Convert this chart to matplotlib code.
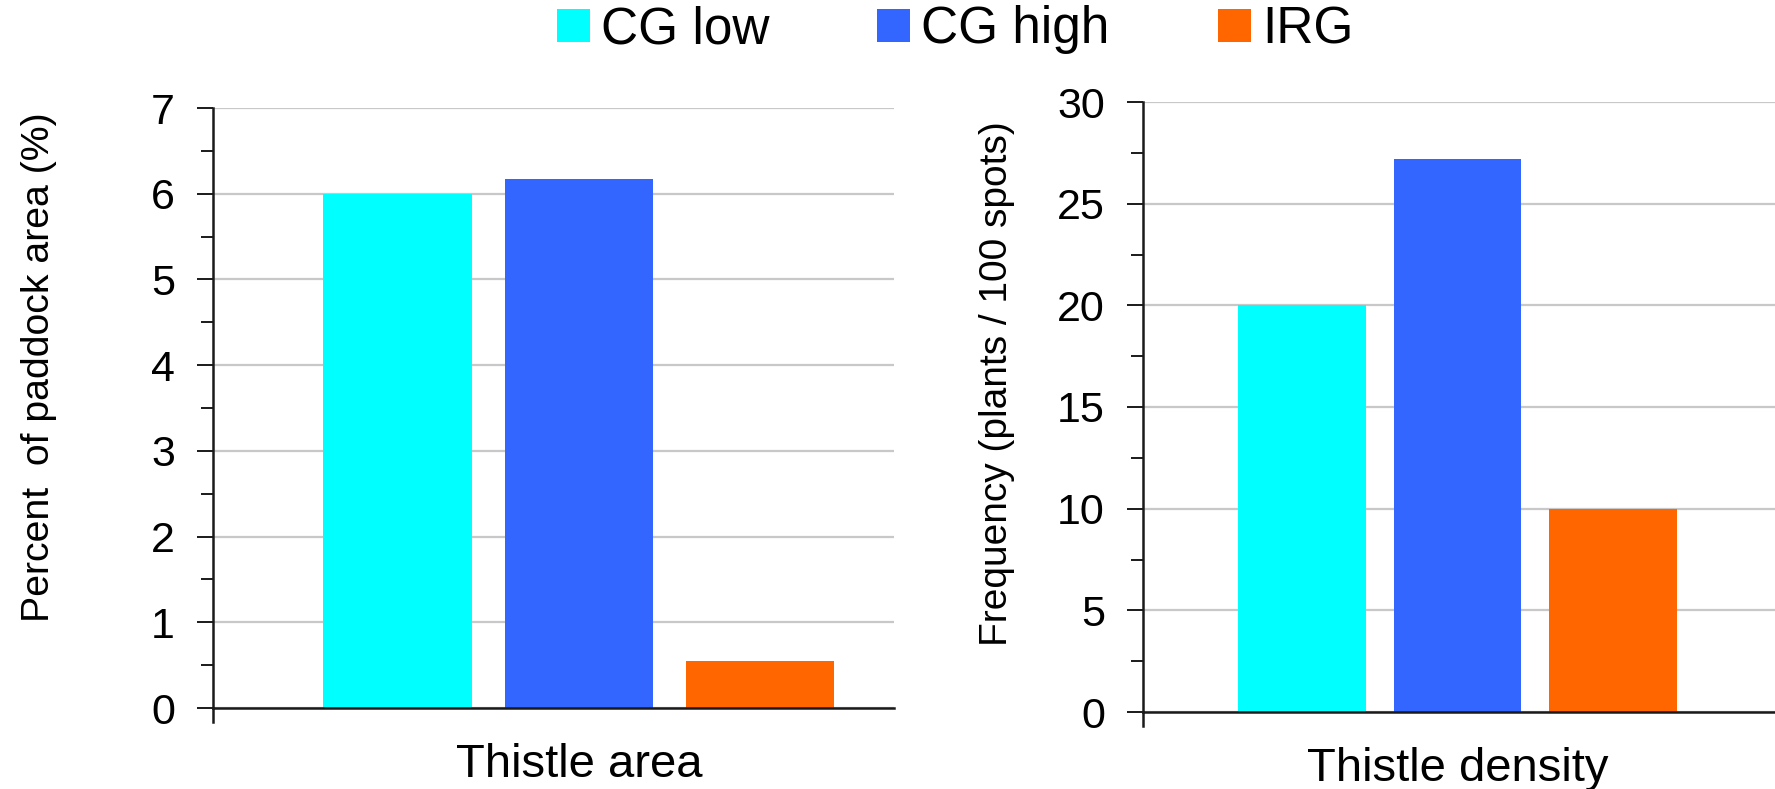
import matplotlib
matplotlib.use("Agg")
import matplotlib.pyplot as plt
from matplotlib.ticker import MultipleLocator
from matplotlib.lines import Line2D

plt.rcParams['font.family'] = ['Liberation Sans', 'DejaVu Sans']

# Data
series = ["CG low", "CG high", "IRG"]
colors = ["#00FFFF", "#3366FF", "#FF6600"]

area_category = "Thistle area"
area_values = [6.0, 6.17, 0.55]

density_category = "Thistle density"
density_values = [20.0, 27.2, 10.0]

W, H = 1775, 789
fig = plt.figure(figsize=(W / 100, H / 100), dpi=100)

ax1 = fig.add_axes([213 / W, 1 - 708 / H, (894 - 213) / W, 600 / H])
ax2 = fig.add_axes([1143 / W, 1 - 712 / H, (1775 - 1143) / W, 610 / H])

panels = [
    (ax1, area_values, area_category, "Percent  of paddock area (%)", 7, 1, 0.5,
     (-1.02, 2.74), 28.3, (-0.229, 0.568)),
    (ax2, density_values, density_category, "Frequency (plants / 100 spots)", 30, 5, 2.5,
     (-1.02, 3.04), 28, (-0.2025, 0.538)),
]

handles = []
for ax, vals, cat, ylab, ymax, major, minor, xlim, ylab_size, ylab_pos in panels:
    bars = []
    for i, (v, c, name) in enumerate(zip(vals, colors, series)):
        b = ax.bar(i, v, width=0.82, color=c, edgecolor="none", label=name, zorder=3)
        bars.append(b)
    if not handles:
        handles = bars

    ax.set_xlim(*xlim)
    ax.set_ylim(0, ymax)
    ax.yaxis.set_major_locator(MultipleLocator(major))
    ax.yaxis.set_minor_locator(MultipleLocator(minor))
    ax.grid(axis="y", which="major", color="#C8C8C8", linewidth=1.6, zorder=0)
    ax.set_axisbelow(True)

    for s in ("top", "right"):
        ax.spines[s].set_visible(False)
    for s in ("left", "bottom"):
        ax.spines[s].set_color("#1a1a1a")
        ax.spines[s].set_linewidth(1.8)
        ax.spines[s].set_zorder(4)

    # short extension of the value axis below the baseline
    h_px = ax.get_position().height * H
    ax.add_line(Line2D([0, 0], [0, -14 / h_px], transform=ax.transAxes,
                       color="#1a1a1a", linewidth=1.8, clip_on=False))

    ax.tick_params(axis="y", which="major", length=11.5, width=1.4,
                   color="#1a1a1a", pad=16, labelsize=31)
    ax.tick_params(axis="y", which="minor", length=9, width=1.4, color="#1a1a1a")

    ax.set_xticks([1])
    ax.set_xticklabels([cat])
    ax.tick_params(axis="x", length=0, pad=25, labelsize=34)

    ax.set_ylabel(ylab, fontsize=ylab_size)
    ax.yaxis.set_label_coords(*ylab_pos)

leg = fig.legend(handles=[h[0] for h in handles], labels=series,
                 loc="center", bbox_to_anchor=(0.538, 0.962), ncol=3,
                 frameon=False, fontsize=37, handlelength=0.64, handleheight=0.62,
                 handletextpad=0.22, columnspacing=2.1, borderaxespad=0)

fig.savefig("out.png", dpi=100, facecolor="white")
